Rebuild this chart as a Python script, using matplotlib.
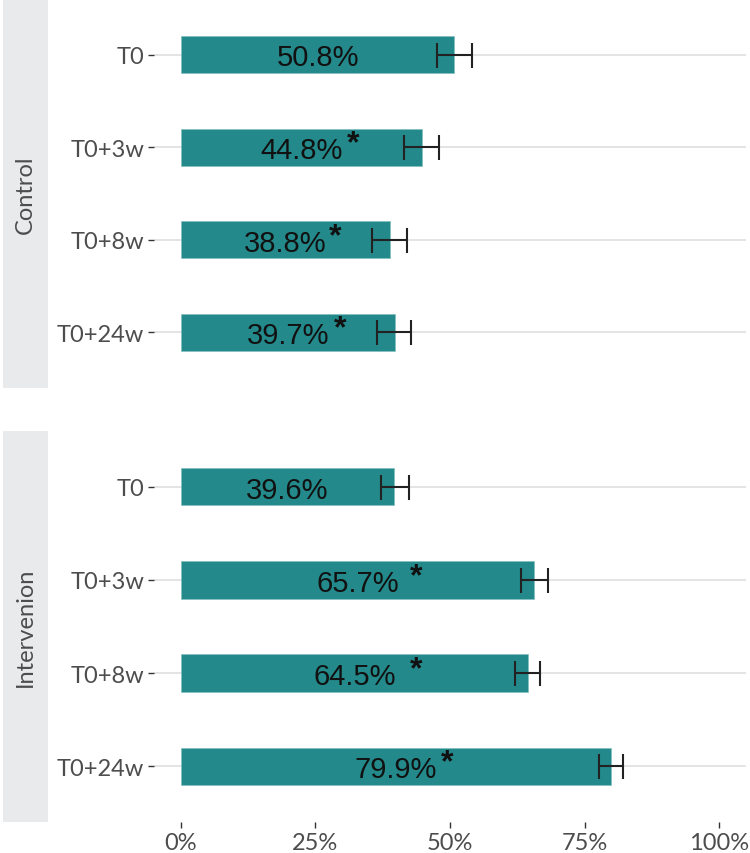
import numpy as np
import matplotlib.pyplot as plt

plt.rcParams['font.family'] = ['Lato', 'DejaVu Sans']

groups = ['Control', 'Intervenion']
times = ['T0', 'T0+3w', 'T0+8w', 'T0+24w']

control_pct = [50.8, 44.8, 38.8, 39.7]
control_lo = [47.6, 41.4, 35.5, 36.5]
control_hi = [54.1, 48.0, 42.1, 42.7]
control_star_x = [None, 32.0, 28.7, 29.6]

interv_pct = [39.6, 65.7, 64.5, 79.9]
interv_lo = [37.1, 63.2, 62.1, 77.6]
interv_hi = [42.3, 68.3, 66.7, 82.1]
interv_star_x = [None, 43.7, 43.7, 49.4]

xticks = [0, 25, 50, 75, 100]
xticklabels = ['0%', '25%', '50%', '75%', '100%']

bar_color = '#23898b'
grey_txt = '#4d4d4d'

W, H = 750, 854
fig = plt.figure(figsize=(W / 100, H / 100), dpi=100)

panels = [
    (groups[0], control_pct, control_lo, control_hi, control_star_x, 0, 389),
    (groups[1], interv_pct, interv_lo, interv_hi, interv_star_x, 432, 823),
]

y = np.arange(len(times))
for name, pct, lo, hi, star_x, top, bot in panels:
    ax = fig.add_axes([154 / W, 1 - bot / H, 592 / W, (bot - top) / H])
    for yy in y:
        ax.axhline(yy, color='#dcdcdc', lw=1.1, zorder=0)
    ax.barh(y, pct, height=0.4, color=bar_color, edgecolor='#7fbfbf',
            linewidth=0.4, zorder=2)
    pct = np.array(pct)
    err = [pct - np.array(lo), np.array(hi) - pct]
    ax.errorbar(pct, y, xerr=err, fmt='none', ecolor='#222222', elinewidth=1.5,
                capsize=9, capthick=1.5, zorder=3)
    for yy, v, sx in zip(y, pct, star_x):
        ax.text(v / 2, yy + 0.03, f'{v:.1f}%', ha='center', va='center', fontsize=21,
                family=['Liberation Sans', 'DejaVu Sans'], color='#111111', zorder=4)
        if sx is not None:
            ax.text(sx, yy - 0.04, '*', ha='center', va='center', fontsize=23,
                    fontweight='bold', family=['Liberation Sans', 'DejaVu Sans'],
                    color='#111111', zorder=4)
    ax.set_xlim(-5, 105)
    ax.set_ylim(len(times) - 1 + 0.6, -0.6)
    ax.set_yticks(y)
    ax.set_yticklabels(times)
    ax.set_xticks(xticks)
    ax.tick_params(axis='both', labelsize=17, labelcolor=grey_txt, color='#333333',
                   width=1, length=4, pad=3)
    if bot > 500:
        ax.set_xticklabels(xticklabels)
    else:
        ax.set_xticklabels([])
        ax.tick_params(axis='x', length=0)
    for s in ax.spines.values():
        s.set_visible(False)

    sax = fig.add_axes([3 / W, 1 - bot / H, 45 / W, (bot - top) / H])
    sax.set_facecolor('#e9eaec')
    sax.set_xticks([])
    sax.set_yticks([])
    for s in sax.spines.values():
        s.set_visible(False)
    sax.text(0.5, 0.5, name, rotation=90, ha='center', va='center', fontsize=17,
             color=grey_txt, transform=sax.transAxes)

fig.savefig('out.png', dpi=100)
